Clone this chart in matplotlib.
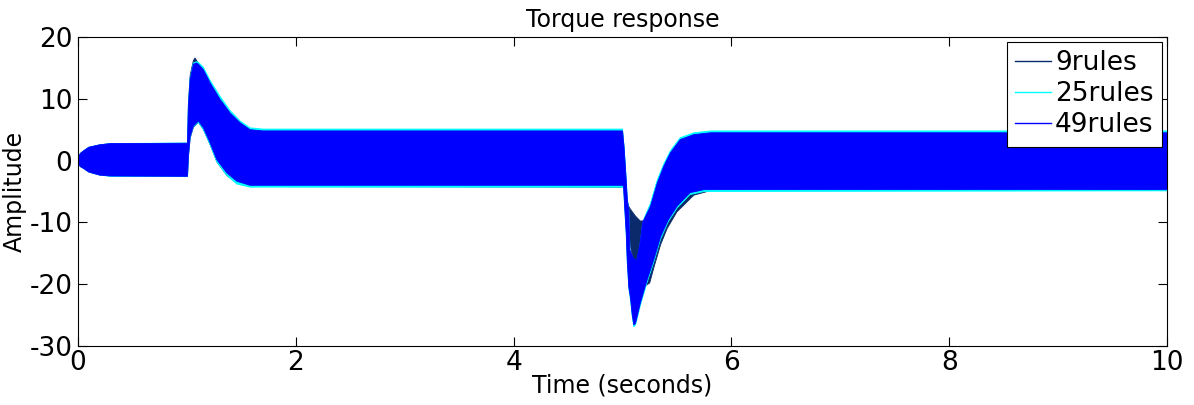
import matplotlib
matplotlib.use("Agg")
import matplotlib.pyplot as plt
import numpy as np
from matplotlib.lines import Line2D

plt.rcParams["font.family"] = ["DejaVu Sans"]
plt.rcParams["axes.unicode_minus"] = False

# envelope of each torque trace (upper / lower edge of the oscillation band)
# 9rules
t_up_9 = [0, 0.01, 0.025, 0.05, 0.1, 0.2, 0.3, 1.006, 1.014, 1.03, 1.06, 1.075, 1.1, 1.152, 1.213,
          1.305, 1.397, 1.49, 1.58, 1.7, 5.0, 5.015, 5.03, 5.043, 5.06, 5.074, 5.12, 5.165, 5.2,
          5.257, 5.32, 5.38, 5.44, 5.53, 5.655, 5.81, 6.0, 10.0]
up_9 = [0, 0.8, 1.2, 1.55, 2.15, 2.55, 2.75, 2.8, 9.3, 13.8, 16.2, 16.6, 15.9, 14.6, 12.4,
        9.8, 7.6, 6.0, 5.1, 5.0, 5.0, 2.0, -2.5, -6.5, -7.5, -7.9, -9.0, -9.8, -9.7,
        -8.0, -4.5, -1.8, 0.3, 2.6, 3.8, 4.4, 4.6, 4.7]
t_lo_9 = [0, 0.01, 0.025, 0.05, 0.1, 0.2, 0.3, 1.006, 1.014, 1.03, 1.06, 1.106, 1.152, 1.213,
          1.275, 1.367, 1.46, 1.58, 5.0, 5.01, 5.04, 5.08, 5.12, 5.2, 5.25, 5.29, 5.35, 5.41,
          5.5, 5.655, 5.8, 10.0]
lo_9 = [0, -0.7, -1.0, -1.25, -1.85, -2.35, -2.5, -2.55, 0.5, 3.6, 5.4, 6.2, 5.0, 2.6,
        -0.2, -2.4, -3.7, -4.2, -4.3, -4.3, -10.0, -14.5, -17.5, -20.4, -19.8, -17.2, -13.6, -11.0,
        -8.3, -5.6, -4.9, -4.8]

# 25rules
t_up_25 = [0, 0.01, 0.025, 0.05, 0.1, 0.2, 0.3, 1.006, 1.014, 1.03, 1.06, 1.09, 1.106, 1.152,
           1.213, 1.305, 1.397, 1.49, 1.58, 1.7, 5.0, 5.015, 5.03, 5.045, 5.058, 5.068, 5.10,
           5.13, 5.16, 5.185, 5.2, 5.257, 5.32, 5.38, 5.44, 5.53, 5.655, 5.81, 10.0]
up_25 = [0, 0.8, 1.2, 1.55, 2.15, 2.55, 2.75, 2.85, 9.0, 13.3, 15.8, 16.0, 15.9, 15.1,
         13.0, 10.4, 8.1, 6.4, 5.3, 5.1, 5.1, 2.2, -1.8, -6.3, -7.9, -14.6, -16.0,
         -16.5, -13.8, -10.2, -9.3, -6.9, -3.1, -0.5, 1.6, 3.7, 4.5, 4.8, 4.8]
t_lo_25 = [0, 0.01, 0.025, 0.05, 0.1, 0.2, 0.3, 1.006, 1.014, 1.03, 1.06, 1.106, 1.152, 1.213,
           1.275, 1.367, 1.46, 1.58, 5.0, 5.01, 5.02, 5.035, 5.043, 5.058, 5.074, 5.089, 5.104,
           5.12, 5.165, 5.226, 5.288, 5.35, 5.42, 5.5, 5.62, 5.75, 10.0]
lo_25 = [0, -0.7, -1.0, -1.25, -1.85, -2.35, -2.55, -2.6, 0.6, 3.8, 5.5, 6.2, 5.0, 2.6,
         -0.2, -2.4, -3.8, -4.3, -4.3, -4.4, -7.7, -12.2, -16.2, -20.7, -22.6, -25.2, -26.9,
         -26.6, -23.4, -19.7, -16.4, -12.7, -9.9, -7.7, -5.5, -5.0, -4.9]

# 49rules
t_up_49 = [0, 0.01, 0.025, 0.05, 0.1, 0.2, 0.3, 1.006, 1.014, 1.03, 1.06, 1.09, 1.106, 1.152,
           1.213, 1.305, 1.397, 1.49, 1.58, 1.7, 5.0, 5.015, 5.03, 5.045, 5.058, 5.068, 5.10,
           5.13, 5.16, 5.185, 5.196, 5.257, 5.32, 5.38, 5.44, 5.53, 5.655, 5.81, 10.0]
up_49 = [0, 0.8, 1.2, 1.55, 2.15, 2.55, 2.75, 2.8, 8.8, 13.1, 15.6, 15.8, 15.6, 14.7,
         12.6, 9.9, 7.7, 6.1, 5.0, 4.8, 4.8, 2.0, -2.0, -6.5, -8.0, -14.5, -15.8,
         -16.2, -13.5, -10.0, -9.6, -7.4, -3.6, -0.9, 1.25, 3.4, 4.2, 4.5, 4.5]
t_lo_49 = [0, 0.01, 0.025, 0.05, 0.1, 0.2, 0.3, 1.006, 1.014, 1.03, 1.06, 1.106, 1.152, 1.213,
           1.275, 1.367, 1.46, 1.58, 5.0, 5.01, 5.02, 5.035, 5.043, 5.058, 5.074, 5.089, 5.104,
           5.12, 5.165, 5.226, 5.288, 5.35, 5.42, 5.5, 5.62, 5.75, 10.0]
lo_49 = [0, -0.7, -1.0, -1.25, -1.85, -2.35, -2.5, -2.55, 0.7, 3.9, 5.6, 6.4, 5.3, 2.9,
         0.16, -2.0, -3.35, -4.0, -4.0, -4.2, -7.5, -12.0, -16.0, -20.5, -22.3, -24.9, -26.6,
         -26.3, -23.0, -19.3, -16.0, -12.3, -9.6, -7.4, -5.2, -4.7, -4.7]

labels = ["9rules", "25rules", "49rules"]
colors = ["#0B2A6B", "#00FFFF", "#0000FF"]
series = [(t_up_9, up_9, t_lo_9, lo_9),
          (t_up_25, up_25, t_lo_25, lo_25),
          (t_up_49, up_49, t_lo_49, lo_49)]

fig = plt.figure(figsize=(11.94, 4.05), dpi=100)
ax = fig.add_axes([0.0653, 0.1457, 0.9121, 0.7630])

# each trace drawn as its oscillation band, 49rules last (on top)
for (tu, yu, tl, yl), c in zip(series, colors):
    xs = np.r_[tu, tl[::-1]]
    ys = np.r_[yu, yl[::-1]]
    ax.fill(xs, ys, color=c, lw=0.6, ec=c, zorder=2)

ax.set_xlim(0, 10)
ax.set_ylim(-30, 20)
ax.set_xticks([0, 2, 4, 6, 8, 10])
ax.set_yticks([-30, -20, -10, 0, 10, 20])
ax.tick_params(direction="in", length=6.5, width=0.8, top=True, right=True,
               labelsize=19)
ax.tick_params(axis="x", pad=3)
ax.tick_params(axis="y", pad=4)
for s in ax.spines.values():
    s.set_linewidth(0.8)

ax.set_title("Torque response", fontsize=17, pad=7)
ax.set_xlabel("Time (seconds)", fontsize=17, labelpad=-2)
ax.set_ylabel("Amplitude", fontsize=17)
ax.yaxis.set_label_coords(-0.047, 0.5)

handles = [Line2D([], [], color=c, lw=1) for c in colors]
leg = ax.legend(handles, labels, loc="upper right", bbox_to_anchor=(0.9954, 0.984),
                fontsize=19, handlelength=1.35, handletextpad=0.15, labelspacing=0.19,
                borderpad=0.32, borderaxespad=0, fancybox=False, framealpha=1)
leg.get_frame().set_edgecolor("black")
leg.get_frame().set_linewidth(0.8)

fig.savefig("out.png", dpi=100)
